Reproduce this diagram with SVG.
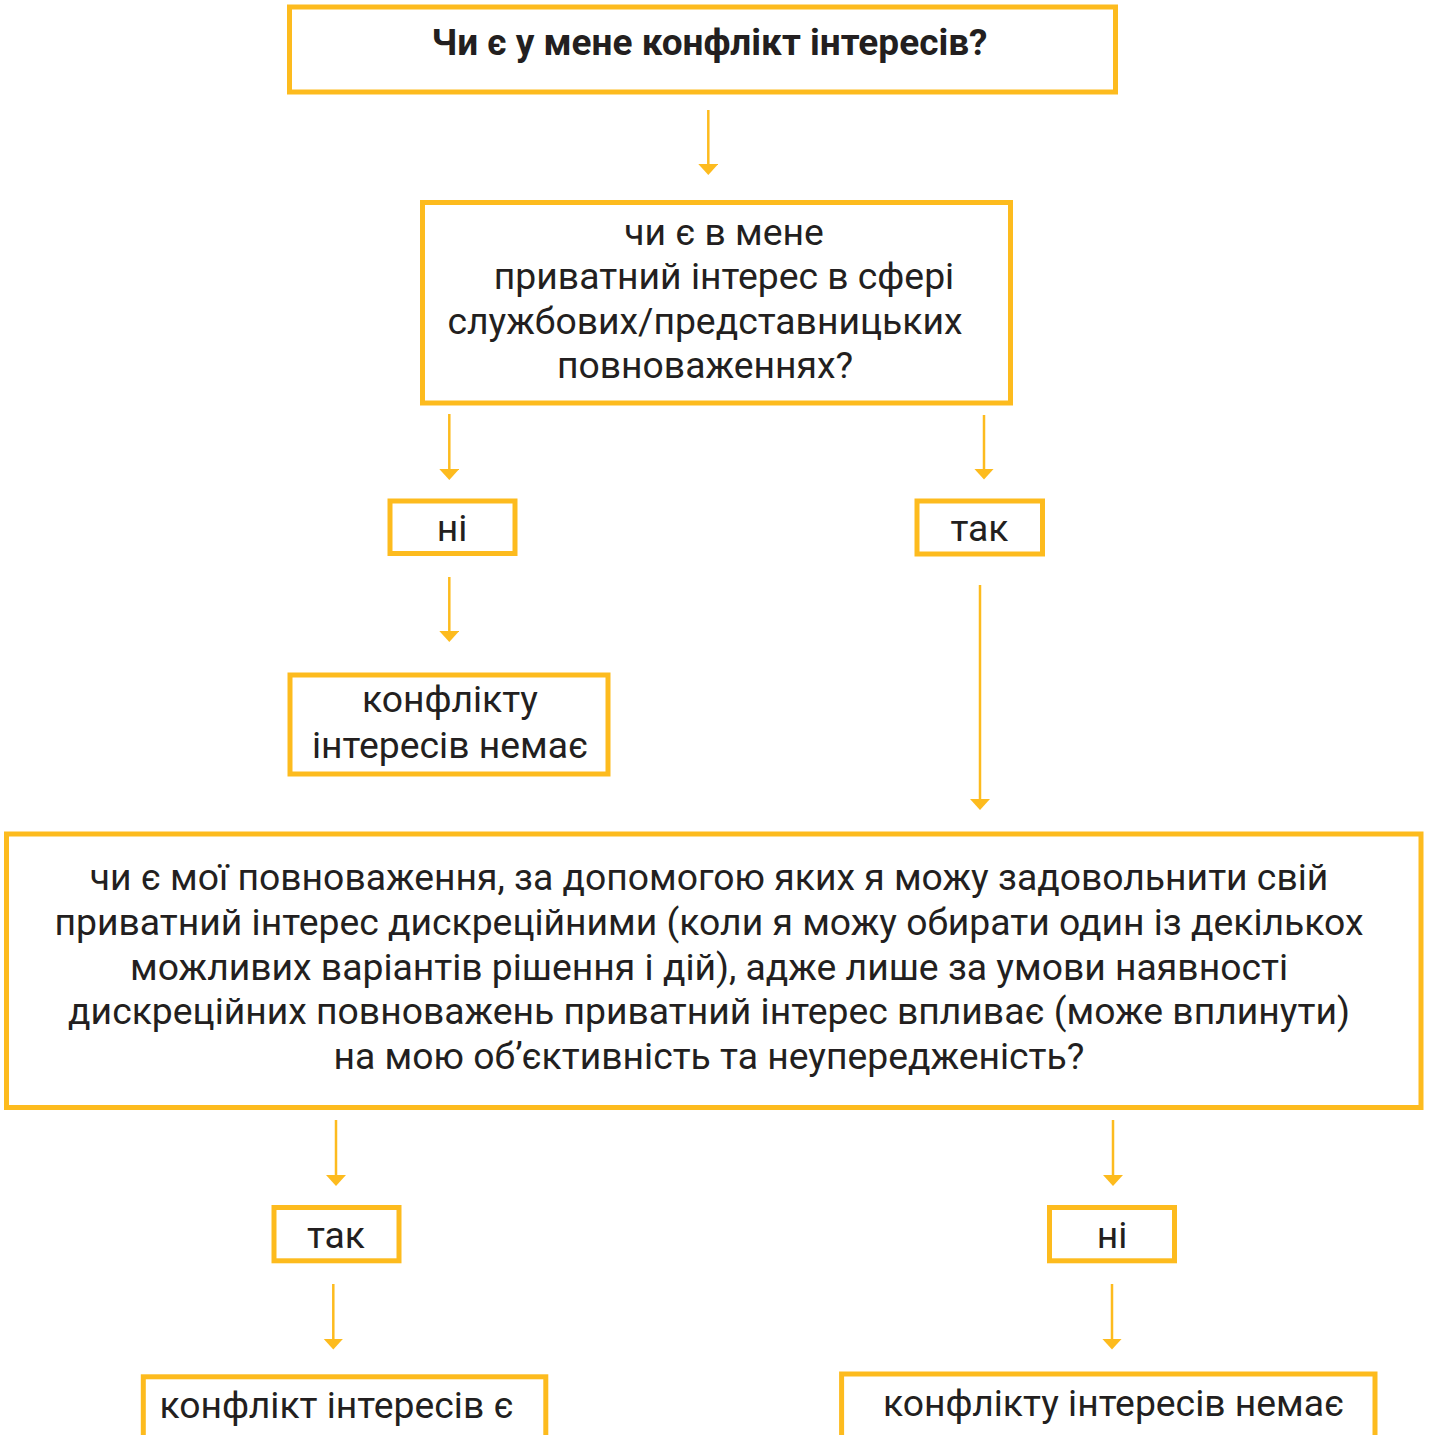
<svg xmlns="http://www.w3.org/2000/svg" width="1430" height="1435" viewBox="0 0 1430 1435">
<defs>
<style>
.box{fill:#ffffff;stroke:#fdbb1e;stroke-width:5}
.t{font-family:Roboto,"Liberation Sans",sans-serif;font-size:37.3px;fill:#231f20;text-anchor:middle}
.b{font-weight:bold;font-size:37px}
.c{stroke:#fdbb1e;stroke-width:2.5;fill:none;marker-end:url(#ah)}
</style>
<marker id="ah" markerUnits="userSpaceOnUse" markerWidth="11" markerHeight="20" viewBox="0 0 11 20" refX="5" refY="10" orient="auto">
<path d="M0,0 L11,10 L0,20 z" fill="#fdbb1e"/>
</marker>
</defs>
<rect width="1430" height="1435" fill="#ffffff"/>
<g id="connectors">
<line class="c" x1="708.3" y1="110" x2="708.3" y2="169"/>
<line class="c" x1="449.3" y1="414" x2="449.3" y2="474"/>
<line class="c" x1="984" y1="415" x2="984" y2="473.5"/>
<line class="c" x1="449.3" y1="577" x2="449.3" y2="636"/>
<line class="c" x1="980" y1="585" x2="980" y2="804"/>
<line class="c" x1="336" y1="1120" x2="336" y2="1180"/>
<line class="c" x1="1113" y1="1120" x2="1113" y2="1180"/>
<line class="c" x1="333.3" y1="1284" x2="333.3" y2="1343.5"/>
<line class="c" x1="1112" y1="1284" x2="1112" y2="1343.5"/>
</g>
<g id="n1">
<rect class="box" x="289.5" y="7" width="826" height="85"/>
<text class="t b" x="709.5" y="55">Чи є у мене конфлікт інтересів?</text>
</g>
<g id="n2">
<rect class="box" x="422.5" y="202.5" width="588" height="200.5"/>
<text class="t" x="724" y="244.5">чи є в мене</text>
<text class="t" x="724" y="289">приватний інтерес в сфері</text>
<text class="t" x="705" y="333.5">службових/представницьких</text>
<text class="t" x="705" y="378">повноваженнях?</text>
</g>
<g id="n3">
<rect class="box" x="390" y="501" width="125" height="52.5"/>
<text class="t" x="452" y="540.5">ні</text>
</g>
<g id="n4">
<rect class="box" x="917" y="501" width="125.5" height="53"/>
<text class="t" x="979.5" y="540.5">так</text>
</g>
<g id="n5">
<rect class="box" x="290" y="675" width="318" height="99"/>
<text class="t" x="450" y="711.5">конфлікту</text>
<text class="t" x="450" y="757.5">інтересів немає</text>
</g>
<g id="n6">
<rect class="box" x="6.5" y="834" width="1414.5" height="273.5"/>
<text class="t" x="709" y="890">чи є мої повноваження, за допомогою яких я можу задовольнити свій</text>
<text class="t" x="709" y="935">приватний інтерес дискреційними (коли я можу обирати один із декількох</text>
<text class="t" x="709" y="979.5">можливих варіантів рішення і дій), адже лише за умови наявності</text>
<text class="t" x="709" y="1024">дискреційних повноважень приватний інтерес впливає (може вплинути)</text>
<text class="t" x="709" y="1068.5">на мою об’єктивність та неупередженість?</text>
</g>
<g id="n7">
<rect class="box" x="274" y="1207.5" width="125" height="53.3"/>
<text class="t" x="336" y="1248">так</text>
</g>
<g id="n8">
<rect class="box" x="1049.5" y="1207.5" width="125" height="53.3"/>
<text class="t" x="1112" y="1248">ні</text>
</g>
<g id="n9">
<rect class="box" x="143.3" y="1376.8" width="402.5" height="100"/>
<text class="t" x="336.5" y="1418">конфлікт інтересів є</text>
</g>
<g id="n10">
<rect class="box" x="841.6" y="1374" width="533.4" height="100"/>
<text class="t" x="1113.5" y="1416">конфлікту інтересів немає</text>
</g>
</svg>
